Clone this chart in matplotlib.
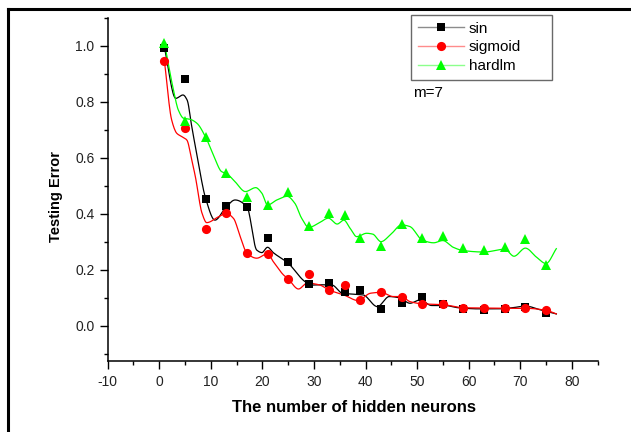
import matplotlib
matplotlib.use('Agg')
import matplotlib.pyplot as plt
from matplotlib.lines import Line2D
import numpy as np

plt.rcParams['font.family'] = ['Liberation Sans', 'DejaVu Sans']
plt.rcParams['axes.unicode_minus'] = False

# measured points
neurons = [1, 5, 9, 13, 17, 21, 25, 29, 33, 36, 39, 43, 47, 51, 55, 59, 63, 67, 71, 75]
err_sin = [0.993, 0.882, 0.454, 0.426, 0.425, 0.313, 0.229, 0.149, 0.154, 0.119,
           0.128, 0.060, 0.082, 0.101, 0.076, 0.059, 0.056, 0.059, 0.068, 0.046]
err_sigmoid = [0.945, 0.707, 0.345, 0.401, 0.259, 0.257, 0.167, 0.185, 0.127, 0.145,
               0.093, 0.119, 0.104, 0.078, 0.076, 0.062, 0.064, 0.062, 0.062, 0.056]
err_hardlm = [1.010, 0.731, 0.673, 0.544, 0.461, 0.431, 0.478, 0.356, 0.401, 0.394,
              0.312, 0.285, 0.363, 0.312, 0.320, 0.276, 0.269, 0.282, 0.309, 0.218]

# smoothed curves (knots)
sin_cx = [1, 3.2, 4.6, 5.4, 6.3, 7.3, 9.0, 10.8, 13, 14.7, 17, 18.9, 19.9, 21, 22.1, 25,
          28.3, 29.6, 31.5, 33.5, 35.5, 38, 39.5, 42.3, 44.6, 46.7, 48.6, 50.6, 52.8,
          55.4, 58, 62, 66, 68.5, 71, 74, 77]
sin_cy = [0.993, 0.812, 0.824, 0.806, 0.711, 0.61, 0.454, 0.377, 0.425, 0.449, 0.425,
          0.27, 0.261, 0.28, 0.261, 0.223, 0.157, 0.145, 0.146, 0.145, 0.116, 0.112,
          0.11, 0.068, 0.104, 0.099, 0.08, 0.092, 0.072, 0.072, 0.064, 0.060, 0.060,
          0.064, 0.070, 0.056, 0.042]
sig_cx = [1, 2.4, 3.4, 4.4, 5.35, 6.3, 7.0, 8.3, 9.2, 11.5, 13, 14.4, 15.7, 17, 18.9,
          21, 22.1, 24.1, 25, 27, 28.7, 31, 33, 36, 38.5, 41, 43, 45.4, 47, 48.6, 51,
          55, 59, 63, 67, 71, 75, 77]
sig_cy = [0.945, 0.735, 0.687, 0.675, 0.663, 0.592, 0.532, 0.401, 0.368, 0.389, 0.401,
          0.383, 0.318, 0.259, 0.241, 0.257, 0.229, 0.181, 0.167, 0.131, 0.152, 0.146,
          0.127, 0.108, 0.09, 0.116, 0.119, 0.104, 0.104, 0.086, 0.078, 0.075, 0.064,
          0.063, 0.062, 0.062, 0.055, 0.042]
hard_cx = [1, 2.75, 3.7, 4.7, 6.0, 7.3, 9, 10.7, 12.1, 13, 14.7, 16.7, 18.7, 19.9, 21,
           22.8, 24.8, 26.3, 27.6, 29, 31, 32.8, 34.5, 35.8, 37, 38.3, 40.2, 41.4, 43,
           44.8, 47, 48.6, 51, 53.2, 55, 57, 59, 63, 67, 68.8, 71, 73.2, 75, 77]
hard_cy = [1.01, 0.842, 0.77, 0.741, 0.737, 0.723, 0.673, 0.60, 0.55, 0.544, 0.514,
           0.479, 0.493, 0.473, 0.431, 0.449, 0.462, 0.437, 0.384, 0.351, 0.367, 0.384,
           0.363, 0.377, 0.348, 0.318, 0.33, 0.327, 0.30, 0.324, 0.36, 0.354, 0.306,
           0.296, 0.304, 0.28, 0.268, 0.263, 0.273, 0.248, 0.277, 0.244, 0.222, 0.275]


def pchip(x, y, xn):
    x = np.asarray(x, float)
    y = np.asarray(y, float)
    h = np.diff(x)
    d = np.diff(y) / h
    m = np.zeros_like(y)
    m[0], m[-1] = d[0], d[-1]
    for k in range(1, len(x) - 1):
        if d[k - 1] * d[k] > 0:
            w1 = 2 * h[k] + h[k - 1]
            w2 = h[k] + 2 * h[k - 1]
            m[k] = (w1 + w2) / (w1 / d[k - 1] + w2 / d[k])
    i = np.clip(np.searchsorted(x, xn) - 1, 0, len(x) - 2)
    t = (xn - x[i]) / h[i]
    h00 = 2 * t**3 - 3 * t**2 + 1
    h10 = t**3 - 2 * t**2 + t
    h01 = -2 * t**3 + 3 * t**2
    h11 = t**3 - t**2
    return h00 * y[i] + h10 * h[i] * m[i] + h01 * y[i + 1] + h11 * h[i] * m[i + 1]


fig = plt.figure(figsize=(6.31, 4.32), dpi=100)
ax = fig.add_axes([0.1707, 0.1632, 0.7763, 0.7958])

series = [
    ('sin', err_sin, sin_cx, sin_cy, 'black', 's', 5.8),
    ('sigmoid', err_sigmoid, sig_cx, sig_cy, '#ff0000', 'o', 6.6),
    ('hardlm', err_hardlm, hard_cx, hard_cy, '#00ff00', '^', 7.2),
]
handles = []
for name, pts, cx, cy, col, mk, ms in series:
    xs = np.linspace(cx[0], cx[-1], 600)
    ax.plot(xs, pchip(cx, cy, xs), color=col, lw=0.9, zorder=2)
    ax.plot(neurons, pts, linestyle='none', marker=mk, ms=ms, color=col,
            markeredgewidth=0, zorder=3)
    ln = Line2D([], [], color=col, lw=1.0, alpha=0.45)
    mkh = Line2D([], [], linestyle='none', marker=mk, ms=ms, color=col, markeredgewidth=0)
    handles.append((ln, mkh))

ax.set_xlim(-10, 85)
ax.set_ylim(-0.128, 1.1)
ax.set_xticks(np.arange(-10, 81, 10))
ax.set_xticks(np.arange(-10, 86, 5), minor=True)
ax.set_yticks(np.arange(0, 1.01, 0.2))
ax.set_yticks(np.arange(-0.1, 1.11, 0.1), minor=True)
ax.set_yticklabels([f"{v:.1f}" for v in np.arange(0, 1.01, 0.2)])
for s in ['top', 'right']:
    ax.spines[s].set_visible(False)
for s in ['left', 'bottom']:
    ax.spines[s].set_linewidth(1.1)
ax.tick_params(which='major', direction='out', length=5.5, width=1.0, labelsize=10,
               pad=4, colors='black', labelcolor='#222222')
ax.tick_params(which='minor', direction='out', length=3, width=1.0)

ax.set_xlabel('The number of hidden neurons', fontsize=12, fontweight='bold')
ax.set_ylabel('Testing Error', fontsize=10.5, fontweight='bold')
ax.xaxis.set_label_coords(0.503, -0.112)
ax.yaxis.set_label_coords(-0.091, 0.48)

leg = ax.legend(handles, ['sin', 'sigmoid', 'hardlm'], loc='upper left',
                bbox_to_anchor=(0.619, 1.008, 0.288, 0.0), mode='expand',
                fontsize=11, frameon=True, fancybox=False, edgecolor='#444444',
                handlelength=3.0, handletextpad=0.35, borderpad=0.45,
                labelspacing=0.3, borderaxespad=0)
leg.get_frame().set_linewidth(1.0)
leg._legend_box.align = 'left'
leg._legend_handle_box.pad = 0

ax.text(0.623, 0.78, 'm=7', transform=ax.transAxes, fontsize=11, va='center', ha='left')

# page border (top and left edges)
fig.add_artist(Line2D([8 / 631, 8 / 631], [0, 1 - 9 / 432], transform=fig.transFigure,
                      color='black', lw=2.2))
fig.add_artist(Line2D([8 / 631, 1], [1 - 9 / 432, 1 - 9 / 432], transform=fig.transFigure,
                      color='black', lw=2.2))

fig.savefig('out.png', dpi=100)
